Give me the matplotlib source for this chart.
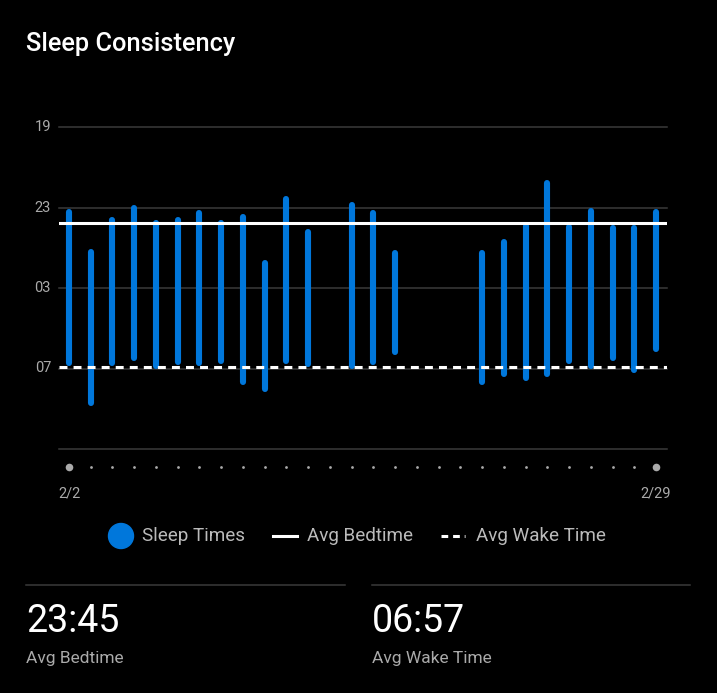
import matplotlib
matplotlib.use("Agg")
import matplotlib.pyplot as plt
from matplotlib import transforms
from matplotlib.patches import Circle

# one entry per night, 2/2 .. 2/29 (None = no data)
day_labels = ["2/2", "2/29"]
bedtimes = ["23:12", "01:12", "23:36", "23:02", "23:47", "23:38", "23:17", "23:45",
            "23:29", "01:46", "22:34", "00:14", None, "22:54", "23:16", "01:16",
            None, None, None, "01:16", "00:44", "23:54", "21:47", "23:59",
            "23:09", "00:01", "00:01", "23:14"]
waketimes = ["06:44", "08:42", "06:44", "06:29", "06:54", "06:41", "06:44", "06:37",
             "07:40", "08:00", "06:37", "06:47", None, "06:54", "06:40", "06:10",
             None, None, None, "07:39", "07:15", "07:27", "07:15", "06:37",
             "06:54", "06:28", "07:04", "06:01"]
avg_bedtime = "23:45"
avg_waketime = "06:57"
y_ticks = [19, 23, 27, 31, 35]
y_ticklabels = ["19", "23", "03", "07", ""]

BLUE = "#0077DB"
GRID = "#3a3a3a"
FONT = "Roboto"


def to_hours(s):
    # hours on a 19:00 -> 11:00 (next day) scale
    h, m = map(int, s.split(":"))
    v = h + m / 60
    return v + 24 if v < 12 else v


W, H = 717, 693
fig = plt.figure(figsize=(W / 100, H / 100), dpi=100, facecolor="black")

# pixel-space overlay for titles, legend and summary
bg = fig.add_axes([0, 0, 1, 1])
bg.set_xlim(0, W)
bg.set_ylim(H, 0)
bg.axis("off")
bg.set_facecolor("black")

ax = fig.add_axes([59 / W, (H - 449) / H, 608 / W, 322 / H])
ax.set_facecolor("none")
n = len(bedtimes)
ax.set_xlim(-10 / 21.74, n - 1 + 11 / 21.74)
ax.set_ylim(35, 19)
for s in ax.spines.values():
    s.set_visible(False)
ax.set_xticks([])
ax.set_yticks([])

ylab_tr = transforms.blended_transform_factory(bg.transData, ax.transData)
for t, lab in zip(y_ticks, y_ticklabels):
    ax.axhline(t, color=GRID, lw=1.1, zorder=1, clip_on=False)
    if lab:
        ax.text(51, t, lab, transform=ylab_tr, ha="right", va="center",
                color="#aaaaaa", fontsize=10.5, family=FONT, clip_on=False)

days = [i for i in range(n) if bedtimes[i] is not None]
bed = [to_hours(bedtimes[i]) for i in days]
wake = [to_hours(waketimes[i]) for i in days]
ax.vlines(days, bed, wake, color=BLUE, lw=4.4, capstyle="round", zorder=3)

ax.axhline(to_hours(avg_bedtime), color="white", lw=2.2, zorder=4)
ax.axhline(to_hours(avg_waketime), color="white", lw=2.2, dashes=(2.6, 2.0), zorder=4)

# day dots and date labels under the plot
blend = transforms.blended_transform_factory(ax.transData, bg.transData)
all_days = list(range(n))
ax.scatter(all_days[1:-1], [467] * (n - 2), s=4, color="#aaaaaa", transform=blend, clip_on=False, lw=0)
ax.scatter([0, n - 1], [467, 467], s=30, color="#aaaaaa", transform=blend, clip_on=False, lw=0)
ax.text(0, 493, day_labels[0], transform=blend, ha="center", va="center",
        color="#aaaaaa", fontsize=10.5, family=FONT)
ax.text(n - 1, 493, day_labels[1], transform=blend, ha="center", va="center",
        color="#aaaaaa", fontsize=10.5, family=FONT)

# title
bg.text(26, 44, "Sleep Consistency", ha="left", va="center", color="white",
        fontsize=18.3, fontweight="medium", family=FONT)

# legend
bg.add_patch(Circle((121, 536), 12.5, color=BLUE))
bg.text(142, 536, "Sleep Times", ha="left", va="center", color="#bbbbbb", fontsize=13.6, family=FONT)
bg.plot([273, 297], [536, 536], color="white", lw=2.2)
bg.text(307, 536, "Avg Bedtime", ha="left", va="center", color="#bbbbbb", fontsize=13.6, family=FONT)
bg.plot([441, 465], [536, 536], color="white", lw=2.2, dashes=(2.2, 1.6))
bg.text(476, 536, "Avg Wake Time", ha="left", va="center", color="#bbbbbb", fontsize=13.6, family=FONT)

# summary blocks
for x0, x1, val, lab in [(26, 345, avg_bedtime, "Avg Bedtime"),
                         (372, 690, avg_waketime, "Avg Wake Time")]:
    bg.plot([x0, x1], [585, 585], color=GRID, lw=1.1)
    bg.text(x0, 622, val, ha="left", va="center", color="white", fontsize=27, family=FONT)
    bg.text(x0, 659, lab, ha="left", va="center", color="#aaaaaa", fontsize=12.5, family=FONT)

fig.savefig("out.png", dpi=100, facecolor="black")
